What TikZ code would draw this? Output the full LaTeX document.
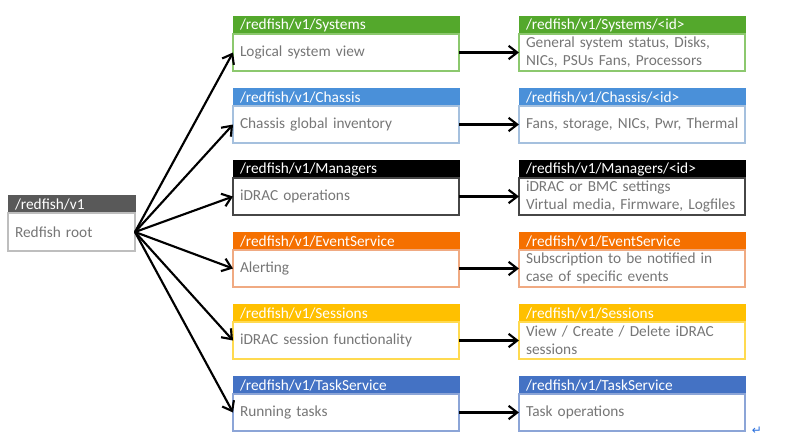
\documentclass[tikz,border=0pt]{standalone}
\usepackage{fontspec}
\setmainfont{Carlito}
\newfontfamily\symfont{DejaVu Sans}
\usetikzlibrary{positioning,arrows.meta}
\definecolor{sysgreen}{RGB}{84,168,44}
\definecolor{sysline}{RGB}{140,200,110}
\definecolor{chassisblue}{RGB}{74,144,217}
\definecolor{chassisline}{RGB}{165,192,222}
\definecolor{mgrline}{RGB}{70,70,70}
\definecolor{eventorange}{RGB}{245,112,0}
\definecolor{eventline}{RGB}{240,170,130}
\definecolor{sessgold}{RGB}{255,192,0}
\definecolor{sessline}{RGB}{255,218,80}
\definecolor{taskblue}{RGB}{68,114,196}
\definecolor{taskline}{RGB}{140,165,215}
\definecolor{rootgray}{RGB}{89,89,89}
\definecolor{rootline}{RGB}{190,190,190}
\definecolor{txtgray}{RGB}{118,118,118}
\definecolor{markblue}{RGB}{40,110,220}
\newcommand\rffont{\fontsize{11.5}{13.5}\selectfont}

\begin{document}
\begin{tikzpicture}[x=0.75pt,y=-0.75pt,
    hdr/.style={fill=#1,draw=#1,text=white,font=\rffont,minimum height=13.5pt,outer sep=0pt,
        inner ysep=0pt,inner xsep=5.25pt,text width=159pt,align=left},
    bodybox/.style={draw=#1,line width=1pt,text=txtgray,font=\rffont,minimum height=27.75pt,outer sep=0pt,
        inner ysep=0pt,inner xsep=5.25pt,text width=159pt,align=left},
    link/.style={-{Straight Barb[length=6.5pt,width=10pt]},line width=1.6pt}]
    \useasboundingbox (0,0) rectangle (809,447);
    % root
    \node[hdr=rootgray,text width=84.75pt,anchor=north west] (rootH) at (8,195) {/redfish/v1};
    \node[bodybox=rootline,text width=84.75pt,minimum height=28.5pt,below=0pt of rootH] (rootB) {Redfish root};
    % collections
    \node[hdr=sysgreen,anchor=north west] (sysH) at (233,16) {/redfish/v1/Systems};
    \node[bodybox=sysline,below=0pt of sysH] (sysB) {Logical system view};
    \node[hdr=chassisblue,below=12.75pt of sysB] (chaH) {/redfish/v1/Chassis};
    \node[bodybox=chassisline,below=0pt of chaH] (chaB) {Chassis global inventory};
    \node[hdr=black,below=12.75pt of chaB] (mgrH) {/redfish/v1/Managers};
    \node[bodybox=mgrline,below=0pt of mgrH] (mgrB) {iDRAC operations};
    \node[hdr=eventorange,below=12.75pt of mgrB] (evtH) {/redfish/v1/EventService};
    \node[bodybox=eventline,below=0pt of evtH] (evtB) {Alerting};
    \node[hdr=sessgold,below=12.75pt of evtB] (sesH) {/redfish/v1/Sessions};
    \node[bodybox=sessline,below=0pt of sesH] (sesB) {iDRAC session functionality};
    \node[hdr=taskblue,below=12.75pt of sesB] (tskH) {/redfish/v1/TaskService};
    \node[bodybox=taskline,below=0pt of tskH] (tskB) {Running tasks};
    % members
    \node[hdr=sysgreen,right=45pt of sysH] (sysRH) {/redfish/v1/Systems/<id>};
    \node[bodybox=sysline,below=0pt of sysRH] (sysRB) {General system status, Disks,\\NICs, PSUs Fans, Processors};
    \node[hdr=chassisblue,right=45pt of chaH] (chaRH) {/redfish/v1/Chassis/<id>};
    \node[bodybox=chassisline,below=0pt of chaRH] (chaRB) {\mbox{Fans, storage, NICs, Pwr, Thermal}};
    \node[hdr=black,right=45pt of mgrH] (mgrRH) {/redfish/v1/Managers/<id>};
    \node[bodybox=mgrline,below=0pt of mgrRH] (mgrRB) {iDRAC or BMC settings\\Virtual media, Firmware, Logfiles};
    \node[hdr=eventorange,right=45pt of evtH] (evtRH) {/redfish/v1/EventService};
    \node[bodybox=eventline,below=0pt of evtRH] (evtRB) {Subscription to be notified in\\case of specific events};
    \node[hdr=sessgold,right=45pt of sesH] (sesRH) {/redfish/v1/Sessions};
    \node[bodybox=sessline,below=0pt of sesRH] (sesRB) {View / Create / Delete iDRAC\\sessions};
    \node[hdr=taskblue,right=45pt of tskH] (tskRH) {/redfish/v1/TaskService};
    \node[bodybox=taskline,below=0pt of tskRH] (tskRB) {Task operations};
    % arrows
    \draw[link] (rootB.east) -- (sysB.west);
    \draw[link] (rootB.east) -- (chaB.west);
    \draw[link] (rootB.east) -- (mgrB.west);
    \draw[link] (rootB.east) -- (evtB.west);
    \draw[link] (rootB.east) -- (sesB.west);
    \draw[link] (rootB.east) -- (tskB.west);
    \draw[link] (sysB.east) -- (sysRB.west);
    \draw[link] (chaB.east) -- (chaRB.west);
    \draw[link] (mgrB.east) -- (mgrRB.west);
    \draw[link] (evtB.east) -- (evtRB.west);
    \draw[link] (sesB.east) -- (sesRB.west);
    \draw[link] (tskB.east) -- (tskRB.west);
    \node[text=markblue,font=\symfont\fontsize{9}{9}\selectfont,inner sep=0pt] (retmark) at (757,431) {↵};
\end{tikzpicture}
\end{document}
